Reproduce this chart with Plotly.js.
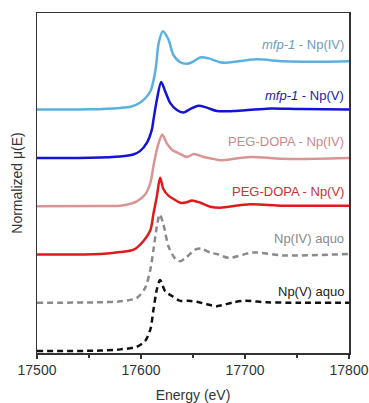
<!DOCTYPE html>
<html>
<head>
<meta charset="utf-8">
<script src="https://cdn.plot.ly/plotly-3.0.1.min.js"></script>
<style>html,body{margin:0;padding:0;background:#fff;}#chart{width:369px;height:403px;}</style>
</head>
<body>
<div id="chart"></div>
<script>
// Series names (labels) from top to bottom
const labels = ["<i>mfp-1</i> - Np(IV)", "<i>mfp-1</i> - Np(V)", "PEG-DOPA - Np(IV)", "PEG-DOPA - Np(V)", "Np(IV) aquo", "Np(V) aquo"];
// vertical stacking offsets (normalized units)
const offsets = [5, 4, 3, 2, 1, 0];

// mfp-1 Np(IV)
const eMfpIV = [17500, 17551, 17580, 17590, 17599, 17609, 17614, 17617, 17621, 17626.4, 17631, 17637.7, 17644, 17649, 17657, 17665, 17676, 17682.5, 17711, 17736.6, 17772, 17800];
const muMfpIV = [0, 0.005, 0.035, 0.06, 0.14, 0.38, 0.83, 1.38, 1.62, 1.45, 1.14, 0.98, 0.95, 0.98, 1.08, 1.06, 0.98, 0.97, 1.04, 1.0, 0.99, 1.0];

// mfp-1 Np(V)
const eMfpV = [17500, 17551, 17580, 17592.5, 17599, 17605.6, 17610.5, 17612, 17615.3, 17619.4, 17623.2, 17628, 17634.5, 17640.8, 17647.3, 17655.2, 17663.3, 17673, 17688.6, 17721, 17753, 17800];
const muMfpV = [0, 0.005, 0.03, 0.07, 0.14, 0.31, 0.59, 0.79, 1.21, 1.57, 1.38, 1.14, 0.99, 0.94, 1.01, 1.08, 1.04, 0.97, 0.97, 1.02, 1.01, 1.0];

// PEG-DOPA Np(IV)
const ePegIV = [17500, 17561, 17580, 17596, 17604, 17609, 17612, 17616, 17620.4, 17624.6, 17629.7, 17636, 17644, 17651, 17660, 17669.6, 17676, 17705, 17736.6, 17800];
const muPegIV = [0, 0.005, 0.01, 0.10, 0.24, 0.48, 0.83, 1.24, 1.48, 1.31, 1.17, 1.10, 1.02, 1.08, 1.02, 0.98, 0.95, 1.02, 0.98, 1.0];

// PEG-DOPA Np(V)
const ePegV = [17500, 17561, 17580, 17593, 17602.4, 17609, 17612, 17615.3, 17618.4, 17621.6, 17626.4, 17631.2, 17637.7, 17644, 17649, 17657, 17666.5, 17676, 17705, 17736.6, 17800];
const muPegV = [0, 0.01, 0.05, 0.10, 0.28, 0.50, 0.85, 1.21, 1.59, 1.35, 1.22, 1.15, 1.07, 1.08, 1.12, 1.07, 0.99, 0.97, 1.04, 1.01, 1.01];

// Np(IV) aquo
const eAqIV = [17500, 17561, 17580, 17596, 17604, 17609, 17612, 17615.3, 17618, 17621.6, 17626.4, 17633, 17637.7, 17644, 17652, 17658.2, 17666.5, 17674.5, 17684, 17708, 17736.6, 17800];
const muAqIV = [0, 0.01, 0.03, 0.10, 0.31, 0.69, 1.10, 1.59, 1.83, 1.62, 1.17, 0.91, 0.86, 0.95, 1.10, 1.12, 1.04, 1.0, 0.93, 1.04, 0.98, 1.01];

// Np(V) aquo
const eAqV = [17500, 17561, 17580, 17596, 17604, 17609, 17612, 17615.3, 17618.4, 17623.2, 17629.7, 17637.7, 17645.6, 17653.7, 17663.3, 17673, 17689, 17700, 17721, 17753, 17800];
const muAqV = [0, 0.01, 0.035, 0.09, 0.21, 0.45, 0.86, 1.28, 1.47, 1.24, 1.14, 1.04, 1.04, 1.02, 0.97, 0.93, 1.01, 1.04, 1.01, 1.0, 1.0];

const xTicks = [17500, 17600, 17700, 17800];

const energies = [eMfpIV, eMfpV, ePegIV, ePegV, eAqIV, eAqV];
const mus = [muMfpIV, muMfpV, muPegIV, muPegV, muAqIV, muAqV];

const lineColors = ["#5BB0E0", "#1414D4", "#D99494", "#E01A1A", "#8A8A8A", "#111111"];
const labelColors = ["#6A9DC2", "#1C1CA0", "#C98A8A", "#C83232", "#8A8A8A", "#222222"];
const dashes = ["solid", "solid", "solid", "solid", "6px,4px", "6px,4px"];

const traces = energies.map((e, i) => ({
  x: e,
  y: mus[i].map(v => v + offsets[i]),
  type: "scatter",
  mode: "lines",
  line: {color: lineColors[i], width: 2.5, shape: "spline", smoothing: 0.8, dash: dashes[i]},
  hoverinfo: "skip",
  showlegend: false
}));

const labelY = [6.35, 5.29, 4.34, 3.31, 2.33, 1.24];
const annotations = labels.map((t, i) => ({
  text: t,
  xref: "paper", x: 0.99, xanchor: "right",
  yref: "y", y: labelY[i], yanchor: "middle",
  showarrow: false,
  font: {family: "Liberation Sans, Arial, sans-serif", size: 13, color: labelColors[i]}
}));

const layout = {
  width: 369, height: 403,
  margin: {l: 37, r: 20, t: 13, b: 50},
  paper_bgcolor: "#fff", plot_bgcolor: "#fff",
  font: {family: "Liberation Sans, Arial, sans-serif", size: 14, color: "#333"},
  xaxis: {
    range: [17500, 17800],
    tickvals: xTicks,
    ticktext: xTicks.map(String),
    ticks: "outside", ticklen: 4, tickwidth: 1.2, tickcolor: "#333",
    minor: {dtick: 50, tick0: 17500, ticks: "outside", ticklen: 3, tickcolor: "#333", showgrid: false},
    showline: true, linecolor: "#333", linewidth: 1.5, mirror: true,
    showgrid: false, zeroline: false,
    tickfont: {size: 14, color: "#333"},
    title: {text: "Energy (eV)", font: {size: 14, color: "#333"}, standoff: 14}
  },
  yaxis: {
    range: [-0.04, 7.0],
    showticklabels: false, ticks: "",
    showline: true, linecolor: "#333", linewidth: 1.5, mirror: true,
    showgrid: false, zeroline: false,
    title: {text: "Normalized μ(E)", font: {size: 14, color: "#333"}, standoff: 9}
  },
  annotations: annotations
};

Plotly.newPlot("chart", traces, layout, {displayModeBar: false, staticPlot: true});
</script>
</body>
</html>
